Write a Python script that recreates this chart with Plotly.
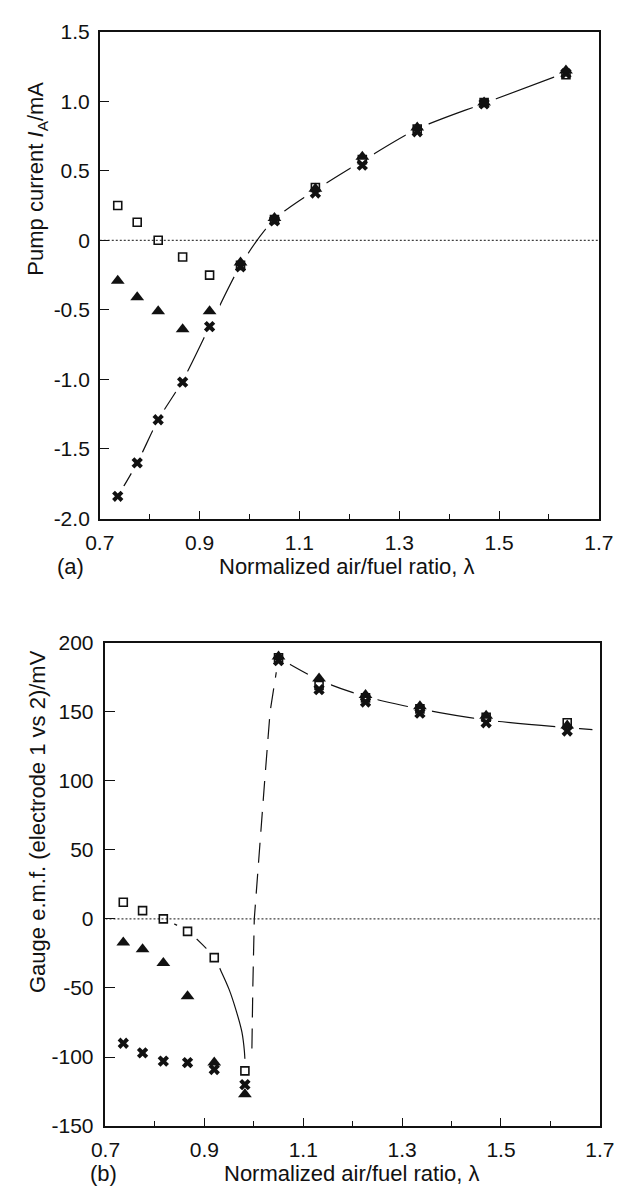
import plotly.graph_objects as go

W, H = 632, 1194

# ---------------- data ----------------
lam = [0.736, 0.775, 0.817, 0.866, 0.920, 0.982, 1.050, 1.132, 1.226, 1.336, 1.470, 1.634]

# (a) pump current / mA
a_square = [0.25, 0.13, 0.00, -0.12, -0.25, -0.18, 0.15, 0.38, 0.58, 0.80, 0.99, 1.19]
a_triangle = [-0.29, -0.41, -0.51, -0.64, -0.51, -0.16, 0.16, 0.37, 0.60, 0.81, 0.99, 1.22]
a_cross = [-1.84, -1.60, -1.29, -1.02, -0.62, -0.19, 0.14, 0.34, 0.54, 0.78, 0.98, 1.20]
a_fit_lam = [0.736, 0.775, 0.817, 0.866, 0.920, 0.982, 1.050, 1.132, 1.226, 1.336, 1.470, 1.634]
a_fit_val = [-1.84, -1.60, -1.29, -1.01, -0.62, -0.18, 0.15, 0.36, 0.57, 0.80, 0.985, 1.205]

# (b) gauge emf / mV
b_square = [12, 6, 0, -9, -28, -110, 189, 169, 160, 152, 146, 142]
b_triangle = [-17, -22, -32, -56, -104, -127, 190, 174, 162, 154, 147, 140]
b_cross = [-90, -97, -103, -104, -109, -120, 187, 166, 157, 149, 142, 136]
b_lean_fit_lam = [1.050, 1.132, 1.226, 1.336, 1.470, 1.634, 1.685]
b_lean_fit_val = [189, 173, 161, 152, 144, 138.5, 137]
b_steep_fit_lam = [1.050, 1.033, 1.022, 1.011, 1.001, 0.998, 0.996]
b_steep_fit_val = [189, 150, 100, 50, 0, -50, -98]
b_rich_fit_lam = [0.817, 0.866, 0.920, 0.934, 0.950, 0.964, 0.976, 0.981, 0.983]
b_rich_fit_val = [0, -9, -28, -38, -51, -66, -82, -96, -110]

x_range = [0.7, 1.7]
x_major = [0.7, 0.9, 1.1, 1.3, 1.5, 1.7]
x_major_text = ["0.7", "0.9", "1.1", "1.3", "1.5", "1.7"]
x_minor = [0.8, 1.0, 1.2, 1.4, 1.6]

a_y_range = [-2.0, 1.5]
a_y_ticks = [1.5, 1.0, 0.5, 0, -0.5, -1.0, -1.5, -2.0]
a_y_text = ["1.5", "1.0", "0.5", "0", "-0.5", "-1.0", "-1.5", "-2.0"]

b_y_range = [-150, 200]
b_y_ticks = [200, 150, 100, 50, 0, -50, -100, -150]
b_y_text = ["200", "150", "100", "50", "0", "-50", "-100", "-150"]

FONT = "Liberation Sans, Arial, Helvetica, sans-serif"
BLACK = "#111111"

fig = go.Figure()


def add_panel(xa, ya, fits, dashed_fits, sq, tri, cr):
    # fitted curves (solid, broken around markers by halos)
    for fl, fv in fits:
        fig.add_trace(go.Scatter(x=fl, y=fv, mode="lines", xaxis=xa, yaxis=ya,
                                 line=dict(color=BLACK, width=1.2, shape="spline", smoothing=0.8),
                                 hoverinfo="skip", showlegend=False))
    for fl, fv in dashed_fits:
        fig.add_trace(go.Scatter(x=fl, y=fv, mode="lines", xaxis=xa, yaxis=ya,
                                 line=dict(color=BLACK, width=1.2, dash="20px,11px"),
                                 hoverinfo="skip", showlegend=False))
    # white halos around markers
    for ser in (sq, tri, cr):
        fig.add_trace(go.Scatter(x=lam, y=ser, mode="markers", xaxis=xa, yaxis=ya,
                                 marker=dict(symbol="circle", size=24, color="white",
                                             line=dict(width=0)),
                                 hoverinfo="skip", showlegend=False))
    # dotted zero line
    fig.add_trace(go.Scatter(x=x_range, y=[0, 0], mode="lines", xaxis=xa, yaxis=ya,
                             line=dict(color=BLACK, width=1, dash="2px,2px"),
                             hoverinfo="skip", showlegend=False))
    # markers
    fig.add_trace(go.Scatter(x=lam, y=sq, mode="markers", xaxis=xa, yaxis=ya,
                             marker=dict(symbol="square-open", size=8, color=BLACK,
                                         line=dict(width=1.6, color=BLACK)),
                             showlegend=False))
    fig.add_trace(go.Scatter(x=lam, y=cr, mode="markers", xaxis=xa, yaxis=ya,
                             marker=dict(symbol="x", size=10, color=BLACK,
                                         line=dict(width=0)),
                             showlegend=False))
    fig.add_trace(go.Scatter(x=lam, y=tri, mode="markers", xaxis=xa, yaxis=ya,
                             marker=dict(symbol="triangle-up", size=12, color=BLACK,
                                         line=dict(width=0)),
                             showlegend=False))


add_panel("x", "y", [(a_fit_lam, a_fit_val)], [], a_square, a_triangle, a_cross)
add_panel("x2", "y2", [(b_lean_fit_lam, b_lean_fit_val), (b_rich_fit_lam, b_rich_fit_val)],
          [(b_steep_fit_lam, b_steep_fit_val)], b_square, b_triangle, b_cross)


def px_x(p):
    return p / W


def px_y(p):
    return 1 - p / H


axis_common = dict(showline=True, linecolor=BLACK, linewidth=1.5, mirror=True,
                   showgrid=False, zeroline=False, ticks="inside", tickcolor=BLACK,
                   tickwidth=1.3, tickfont=dict(family=FONT, size=21, color=BLACK))

xa_common = dict(axis_common, range=x_range, tickmode="array", tickvals=x_major,
                 ticktext=x_major_text, ticklen=8, ticklabelstandoff=4,
                 minor=dict(tickvals=x_minor, ticklen=5, ticks="inside",
                            tickcolor=BLACK, tickwidth=1.3))

fig.update_layout(
    width=W, height=H, margin=dict(l=0, r=0, t=0, b=0),
    paper_bgcolor="white", plot_bgcolor="white",
    xaxis=dict(xa_common, domain=[px_x(89), px_x(613)], anchor="y"),
    yaxis=dict(axis_common, domain=[px_y(516.5), px_y(20)], anchor="x",
               range=a_y_range, tickmode="array", tickvals=a_y_ticks,
               ticktext=a_y_text, ticklen=9, ticklabelstandoff=4),
    xaxis2=dict(xa_common, domain=[px_x(95), px_x(614)], anchor="y2"),
    yaxis2=dict(axis_common, domain=[px_y(1136), px_y(643)], anchor="x2",
                range=b_y_range, tickmode="array", tickvals=b_y_ticks,
                ticktext=b_y_text, ticklen=10, ticklabelstandoff=6),
)

ann_font = dict(family=FONT, size=22, color=BLACK)
annotations = [
    dict(text="Pump current <i>I</i><sub>A</sub>/mA", x=px_x(23), y=px_y(170),
         textangle=-90),
    dict(text="Gauge e.m.f. (electrode 1 vs 2)/mV", x=px_x(23), y=px_y(825),
         textangle=-90),
    dict(text="Normalized air/fuel ratio, λ", x=px_x(212), y=px_y(565), xanchor="left"),
    dict(text="Normalized air/fuel ratio, λ", x=px_x(217), y=px_y(1184), xanchor="left"),
    dict(text="(a)", x=px_x(58), y=px_y(565)),
    dict(text="(b)", x=px_x(93), y=px_y(1184)),
]
for a in annotations:
    a.setdefault("xanchor", "center")
    fig.add_annotation(xref="paper", yref="paper", yanchor="middle", showarrow=False,
                       font=ann_font, **a)

fig.write_html("out.html")
